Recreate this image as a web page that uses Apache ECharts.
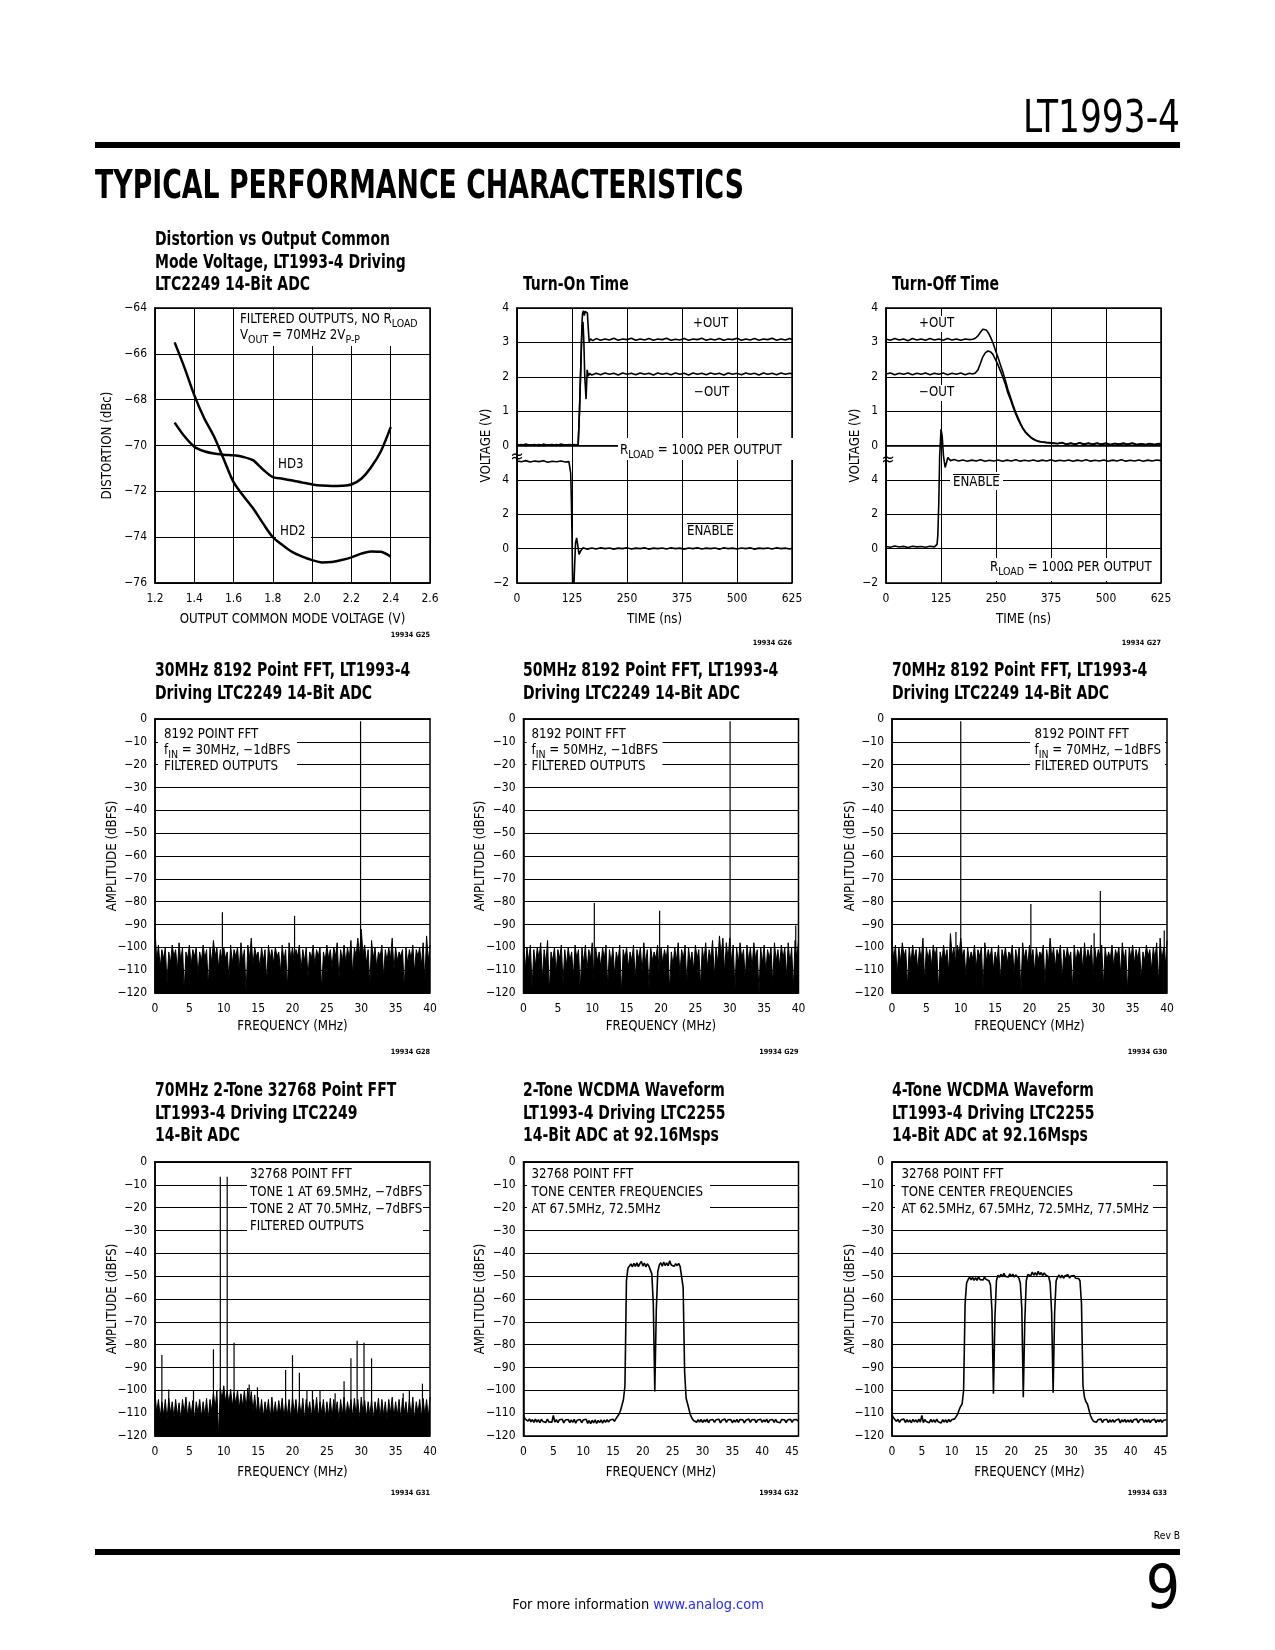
<!DOCTYPE html>
<html><head><meta charset="utf-8">
<script src="https://cdn.jsdelivr.net/npm/echarts@6/dist/echarts.min.js"></script>
<style>html,body{margin:0;padding:0;background:#fff}#c{width:1275px;height:1650px}</style>
</head><body><div id="c"></div>
<script>
// ---------------- DATA ----------------
// Distortion vs output common mode voltage [V, dBc]
const hd2 = [[1.3,-65.5],[1.35,-66.6],[1.4,-67.8],[1.45,-68.8],[1.5,-69.6],[1.55,-70.6],[1.6,-71.6],[1.65,-72.2],[1.7,-72.75],[1.75,-73.4],[1.8,-74.0],[1.85,-74.35],[1.9,-74.65],[1.95,-74.85],[2.0,-75.0],[2.05,-75.1],[2.1,-75.08],[2.15,-75.0],[2.2,-74.88],[2.25,-74.72],[2.3,-74.62],[2.35,-74.64],[2.4,-74.85]];
const hd3 = [[1.3,-69.0],[1.35,-69.6],[1.4,-70.05],[1.45,-70.25],[1.5,-70.35],[1.55,-70.4],[1.6,-70.43],[1.65,-70.5],[1.7,-70.65],[1.75,-71.05],[1.8,-71.38],[1.85,-71.45],[1.9,-71.53],[1.95,-71.62],[2.0,-71.7],[2.05,-71.75],[2.1,-71.77],[2.15,-71.76],[2.2,-71.7],[2.25,-71.45],[2.3,-70.95],[2.35,-70.25],[2.4,-69.2]];

// Turn-on time [ns, V]
const turnOnPlus = [[0,0.03],[10,0.0],[20,0.04],[30,0.01],[40,0.03],[50,-0.01],[60,0.04],[70,0.01],[80,0.03],[90,0.0],[100,0.04],[110,0.01],[120,0.03],[130,0.0],[139,0.02],[142,1.0],[145,2.3],[147.5,3.5],[149,3.85],[151,3.92],[153,3.78],[155,3.9],[158,3.92],[160,3.85],[162,3.4],[164,3.02],[167,3.1],[172,3.05],[180,3.11],[190,3.06],[200,3.1],[210,3.07],[220,3.12],[230,3.06],[240,3.1],[250,3.08],[260,3.12],[270,3.06],[280,3.1],[290,3.07],[300,3.11],[310,3.06],[320,3.1],[330,3.08],[340,3.12],[350,3.06],[360,3.09],[370,3.07],[380,3.11],[390,3.06],[400,3.1],[410,3.08],[420,3.12],[430,3.06],[440,3.1],[450,3.07],[460,3.11],[470,3.06],[480,3.1],[490,3.08],[500,3.12],[510,3.06],[520,3.1],[530,3.07],[540,3.11],[550,3.06],[560,3.1],[570,3.08],[580,3.12],[590,3.06],[600,3.1],[610,3.07],[620,3.11],[625,3.08]];
const turnOnMinus = [[0,0.0],[10,0.03],[20,-0.01],[30,0.02],[40,0.0],[50,0.03],[60,-0.01],[70,0.02],[80,0.0],[90,0.03],[100,-0.01],[110,0.02],[120,0.0],[130,0.03],[139,0.0],[142,1.0],[145,2.3],[147.5,3.3],[150,3.6],[152,3.0],[154,2.0],[157,1.35],[159.5,2.2],[162,2.02],[165,2.1],[170,2.05],[180,2.1],[190,2.06],[200,2.11],[210,2.07],[220,2.1],[230,2.05],[240,2.11],[250,2.07],[260,2.1],[270,2.06],[280,2.11],[290,2.07],[300,2.1],[310,2.05],[320,2.11],[330,2.07],[340,2.1],[350,2.06],[360,2.11],[370,2.07],[380,2.1],[390,2.05],[400,2.11],[410,2.07],[420,2.1],[430,2.06],[440,2.11],[450,2.07],[460,2.1],[470,2.05],[480,2.11],[490,2.07],[500,2.1],[510,2.06],[520,2.11],[530,2.07],[540,2.1],[550,2.05],[560,2.11],[570,2.07],[580,2.1],[590,2.06],[600,2.11],[610,2.07],[620,2.1],[625,2.08]];
const turnOnEnable = [[0,5.1],[10,5.05],[20,5.12],[30,5.04],[40,5.1],[50,5.06],[60,5.11],[70,5.03],[80,5.08],[90,5.05],[100,5.1],[110,5.04],[118,5.06],[120.5,5.0],[122,4.4],[123.5,2.9],[125,0.8],[126.5,-2.2],[129,-2.4],[131,-1.0],[133,0.3],[135.5,0.62],[138,0.2],[141,-0.33],[145,-0.12],[150,0.05],[160,-0.03],[170,0.04],[180,-0.02],[190,0.05],[200,0.0],[210,0.04],[220,-0.03],[230,0.03],[240,0.0],[250,0.05],[260,-0.02],[270,0.03],[280,0.0],[290,0.05],[300,-0.03],[310,0.03],[320,0.0],[330,0.04],[340,-0.02],[350,0.05],[360,0.0],[370,0.03],[380,-0.03],[390,0.04],[400,0.0],[410,0.05],[420,-0.02],[430,0.03],[440,0.0],[450,0.04],[460,-0.03],[470,0.05],[480,0.0],[490,0.03],[500,-0.02],[510,0.04],[520,0.0],[530,0.05],[540,-0.03],[550,0.03],[560,0.0],[570,0.04],[580,-0.02],[590,0.05],[600,0.0],[610,0.03],[620,-0.02],[625,0.02]];

// Turn-off time [ns, V]
const turnOffPlus = [[0,3.1],[10,3.06],[20,3.11],[30,3.07],[40,3.1],[50,3.05],[60,3.11],[70,3.07],[80,3.1],[90,3.06],[100,3.11],[110,3.07],[120,3.1],[130,3.06],[140,3.11],[150,3.07],[160,3.1],[170,3.06],[180,3.1],[190,3.08],[197,3.09],[203,3.12],[209,3.19],[215,3.3],[220,3.38],[224,3.4],[228,3.36],[233,3.27],[238,3.14],[243,2.99],[248,2.8],[254,2.58],[260,2.35],[266,2.12],[272,1.86],[277,1.63],[283,1.4],[288.5,1.19],[294,0.99],[300,0.81],[306,0.64],[311,0.51],[317,0.4],[323,0.32],[330,0.23],[338,0.17],[345,0.13],[353,0.11],[365,0.09],[376,0.08],[390,0.06],[400,0.09],[410,0.04],[420,0.07],[430,0.03],[440,0.08],[450,0.04],[460,0.07],[470,0.03],[480,0.06],[490,0.04],[500,0.07],[510,0.02],[520,0.06],[530,0.04],[540,0.07],[550,0.03],[560,0.06],[570,0.02],[580,0.05],[590,0.03],[600,0.06],[610,0.02],[620,0.05],[625,0.03]];
const turnOffMinus = [[0,2.08],[10,2.11],[20,2.06],[30,2.1],[40,2.07],[50,2.11],[60,2.06],[70,2.1],[80,2.07],[90,2.11],[100,2.06],[110,2.1],[120,2.07],[130,2.11],[140,2.06],[150,2.1],[160,2.07],[170,2.11],[180,2.06],[190,2.1],[197,2.08],[203,2.11],[209,2.2],[215,2.4],[220,2.58],[226,2.7],[232,2.75],[238,2.72],[243,2.65],[248,2.52],[254,2.36],[260,2.17],[266,1.97],[272,1.75],[277,1.53],[283,1.33],[288.5,1.13],[294,0.94],[300,0.76],[306,0.61],[311,0.49],[317,0.38],[323,0.3],[330,0.22],[338,0.16],[345,0.12],[353,0.1],[365,0.08],[376,0.07],[390,0.05],[400,0.08],[410,0.03],[420,0.06],[430,0.04],[440,0.07],[450,0.03],[460,0.06],[470,0.04],[480,0.07],[490,0.03],[500,0.05],[510,0.03],[520,0.06],[530,0.02],[540,0.05],[550,0.04],[560,0.07],[570,0.03],[580,0.05],[590,0.02],[600,0.05],[610,0.03],[620,0.06],[625,0.04]];
const turnOffEnable = [[0,0.12],[10,0.08],[20,0.15],[30,0.09],[40,0.13],[50,0.07],[60,0.14],[70,0.1],[80,0.12],[90,0.08],[100,0.14],[110,0.1],[114,0.12],[116,0.25],[117.7,0.74],[120,2.68],[122,5.4],[125,6.95],[127.6,6.56],[130.6,5.4],[134.4,4.72],[137.4,5.0],[140.5,5.3],[146.5,5.12],[155,5.18],[165,5.1],[175,5.16],[185,5.08],[195,5.15],[205,5.1],[215,5.17],[225,5.08],[235,5.14],[245,5.1],[255,5.16],[265,5.08],[275,5.15],[285,5.1],[295,5.17],[305,5.09],[315,5.14],[325,5.1],[335,5.16],[345,5.08],[355,5.15],[365,5.1],[375,5.17],[385,5.09],[395,5.14],[405,5.1],[415,5.16],[425,5.08],[435,5.15],[445,5.1],[455,5.17],[465,5.09],[475,5.14],[485,5.1],[495,5.16],[505,5.08],[515,5.15],[525,5.1],[535,5.17],[545,5.09],[555,5.14],[565,5.1],[575,5.16],[585,5.08],[595,5.15],[605,5.1],[615,5.16],[625,5.12]];

// FFT noise floors: one value (dBFS) every FFT_STEP MHz starting at 0 MHz
const FFT_STEP = 0.25;
const fft30Noise = [
-92,-106,-99,-109,-101,-105,-100,-116,-102,-107,-99,-104,-101,-110,-98,-106,-100,-119,-102,-105,
-99,-108,-101,-104,-100,-112,-102,-106,-99,-105,-101,-117,-100,-107,-97,-104,-100,-109,-101,-106,
-100,-105,-102,-114,-99,-107,-101,-104,-100,-110,-98,-106,-101,-120,-99,-105,-96,-108,-100,-104,
-102,-109,-100,-106,-101,-115,-99,-105,-101,-107,-100,-104,-102,-111,-99,-106,-101,-118,-98,-105,
-100,-107,-101,-104,-99,-110,-101,-106,-100,-113,-102,-105,-99,-108,-101,-104,-100,-119,-102,-106,
-99,-105,-101,-109,-100,-104,-98,-114,-101,-106,-99,-107,-100,-105,-97,-112,-100,-104,-96,-104,
-92,-103,-99,-107,-101,-117,-97,-105,-100,-109,-102,-104,-99,-113,-101,-106,-100,-105,-96,-110,
-100,-106,-102,-104,-101,-118,-100,-107,-101,-105,-99,-111,-101,-104,-100,-108,-98,-115,-95,-106,
-99];
const fft30Spurs = [[9.8,-84.6],[20.3,-86.2],[29.9,-1]];

const fft50Noise = [
-97,-110,-100,-106,-99,-118,-101,-108,-100,-105,-98,-114,-101,-107,-97,-120,-102,-106,-100,-111,
-101,-105,-99,-116,-101,-108,-100,-106,-102,-113,-99,-105,-101,-119,-100,-107,-99,-110,-101,-105,
-98,-115,-100,-106,-102,-109,-100,-105,-99,-117,-101,-107,-100,-112,-102,-106,-99,-120,-101,-105,
-100,-109,-102,-106,-99,-114,-101,-105,-100,-111,-98,-107,-101,-118,-100,-106,-102,-105,-99,-113,
-100,-107,-101,-105,-99,-119,-102,-108,-100,-106,-98,-112,-101,-105,-99,-116,-100,-107,-102,-110,
-99,-105,-101,-117,-100,-106,-98,-109,-101,-105,-97,-113,-100,-107,-95,-104,-96,-111,-98,-105,
-96,-106,-99,-118,-100,-107,-98,-105,-101,-114,-99,-106,-100,-109,-98,-105,-101,-120,-100,-107,
-99,-111,-101,-105,-100,-116,-98,-106,-101,-108,-99,-105,-100,-113,-98,-107,-100,-118,-97,-105,
-97];
const fft50Spurs = [[10.3,-80.6],[19.8,-84],[30.05,-1],[39.6,-90.4]];

const fft70Noise = [
-97,-105,-99,-112,-100,-106,-98,-104,-101,-117,-100,-107,-99,-105,-101,-110,-100,-106,-96,-115,
-100,-105,-101,-108,-99,-104,-100,-119,-102,-106,-99,-105,-101,-111,-94,-104,-100,-107,-99,-103,
-96,-104,-101,-113,-100,-106,-102,-105,-99,-109,-101,-104,-100,-118,-98,-106,-101,-105,-100,-110,
-102,-106,-99,-115,-101,-105,-100,-107,-102,-104,-99,-112,-101,-106,-100,-120,-98,-105,-101,-108,
-99,-105,-101,-111,-100,-106,-102,-104,-99,-116,-101,-107,-96,-105,-100,-109,-101,-104,-99,-114,
-101,-106,-100,-105,-102,-118,-99,-107,-101,-104,-100,-110,-98,-106,-101,-105,-99,-113,-100,-106,
-101,-104,-99,-117,-100,-106,-102,-105,-99,-109,-101,-104,-100,-112,-98,-106,-101,-119,-100,-105,
-99,-107,-101,-105,-100,-114,-102,-106,-99,-104,-101,-110,-100,-105,-98,-116,-96,-106,-100,-108,
-97];
const fft70Spurs = [[9.3,-93.3],[10.0,-1],[20.2,-81],[29.4,-93.8],[30.3,-75.3],[39.6,-92.6]];

const twoToneNoise = [
-101,-110,-104,-112,-105,-111,-104,-113,-103.5,-110,-105,-112,-104,-111,-105.5,-113,-104,-110,-103,-112,
-105,-111,-104.5,-113,-105,-110,-104,-112,-105,-111,-103.5,-113,-104,-109,-101,-108,-100,-120,-99,-104,
-98,-105,-100,-106,-99.5,-107,-101,-106,-100,-108,-101.5,-107,-100,-108,-99,-107,-100.5,-109,-102,-110,
-103,-111,-104,-112,-105,-110,-104,-113,-103,-111,-105,-112,-104.5,-110,-103.5,-112,-105,-111,-104,-113,
-103,-110,-104,-112,-105,-111,-103.5,-113,-104,-110,-105,-112,-104,-111,-103,-112,-105,-110,-104,-113,
-105,-111,-103.5,-112,-104,-110,-105,-113,-104,-111,-103,-112,-105,-110,-104,-112,-103.5,-111,-104,-113,
-103,-110,-104.5,-112,-105,-111,-104,-113,-105,-110,-103.5,-112,-104,-111,-105,-113,-104,-110,-103,-112,
-105,-111,-104,-113,-103.5,-110,-105,-112,-104,-111,-103,-113,-105,-110,-104,-112,-103.5,-111,-104,-112,
-103];
const twoToneSpurs = [[1.0,-84.5],[2.0,-99.6],[5.6,-100.2],[8.5,-82],[9.5,-6.5],[10.5,-6.5],[11.5,-79.2],[13.7,-97.4],[14.9,-98.7],[19.0,-91.1],[20.0,-84.6],[21.0,-92.3],[22.1,-100.3],[22.9,-100.3],[24.0,-99.9],[26.2,-101.3],[27.5,-96],[28.5,-86],[29.4,-78.3],[30.4,-79.2],[31.5,-86],[36.1,-101.3],[37.0,-99.9],[38.9,-97.1]];

// WCDMA spectra (dBFS) every FFT_STEP MHz from 0 to 46 MHz
const wcdma2 = [
-111,-112.5,-112,-113.5,-112.5,-113.8,-112.8,-114,-112.6,-113.9,-112.8,-114.2,-112.7,-113.6,-112.9,-114.1,-112.6,-113.8,-113,-114,
-111,-113.9,-112.8,-114.2,-112.9,-113.7,-112.7,-114.3,-113,-113.8,-112.8,-114.1,-112.9,-114,-112.7,-114.4,-113.1,-113.9,-112.8,-114.2,
-113,-113.8,-112.7,-114.5,-113.2,-114.6,-113.1,-114.3,-112.9,-114.5,-113.2,-114.1,-112.9,-114.4,-113,-114,-112.8,-113.9,-113,-113.8,
-112.7,-113.6,-112.4,-111.8,-110.5,-108.8,-106.5,-104,-98,-52,-46.5,-45.8,-44.6,-45.9,-44.4,-45.7,-44.2,-45.8,-44.5,-43.5,
-45.6,-44.3,-45.9,-44.6,-45.5,-46,-49,-62,-100.5,-65,-48,-45.2,-44.1,-45.6,-43.8,-45.4,-44.2,-45.5,-43.2,-45.1,
-44.3,-45.7,-44.5,-45.4,-44.4,-45.8,-46.5,-55,-92,-103.5,-106,-108.5,-111,-112.3,-113.2,-112.6,-114,-112.8,-113.9,-112.7,
-114.1,-112.9,-113.8,-112.6,-114.2,-113,-113.7,-112.8,-114,-112.9,-113.6,-112.7,-114.3,-113.1,-113.8,-112.6,-114,-112.9,-113.5,-112.8,
-114.2,-113,-113.9,-112.7,-114.1,-112.8,-113.6,-112.9,-114.3,-113.1,-113.8,-112.6,-114,-112.9,-113.7,-112.8,-114.1,-113,-113.6,-112.7,
-114,-112.9,-113.8,-112.6,-114.2,-113,-113.7,-112.8,-114,-112.7,-113.9,-113.1,-114.2,-112.8,-113.6,-112.9,-114.1,-113,-113.8,-112.7,
-114,-112.9,-113.7,-112.8,-113.5];
const wcdma4 = [
-110.8,-112,-112.5,-113.6,-112.7,-114,-112.9,-113.7,-112.6,-114.1,-112.8,-113.9,-113,-114.2,-112.7,-113.8,-112.9,-114,-112.6,-113.9,
-111,-114.1,-112.8,-113.7,-113,-114.2,-112.7,-113.9,-112.9,-114,-112.6,-113.8,-113.1,-114.3,-112.8,-113.9,-112.9,-114.1,-112.7,-113.8,
-112.9,-113.6,-112.5,-111.5,-110.5,-108.5,-107,-106,-100,-62,-53,-51.5,-50.3,-51.6,-50.5,-51.8,-50.6,-51.9,-50.2,-51.5,
-50.7,-51.7,-50.4,-51.4,-50.8,-52,-54,-65,-101.5,-68,-52,-49.6,-50.5,-49.2,-50.3,-48.8,-50.1,-49.3,-50.4,-49,
-50.2,-49.1,-50.4,-49.5,-50.2,-50.8,-53,-64,-103,-70,-52,-49.3,-48.6,-49.8,-48.2,-49.6,-48.5,-49.7,-47.9,-49.4,
-48.4,-49.8,-48.6,-49.5,-48.8,-50.2,-53,-66,-101,-66,-52,-50.4,-49.5,-50.7,-49.6,-50.9,-49.8,-50.6,-49.4,-50.8,
-49.9,-50.7,-49.7,-50.9,-50.2,-51,-52,-62,-98,-103,-105,-106,-108.5,-111,-112.5,-113.5,-112.8,-114,-112.9,-113.7,
-112.6,-114.1,-113,-113.8,-112.7,-114.2,-112.9,-113.9,-112.8,-114,-113.1,-113.7,-112.6,-114.3,-112.9,-113.8,-112.7,-114,-113,-113.9,
-112.8,-114.1,-112.9,-113.7,-112.6,-114.2,-113,-113.8,-112.7,-114,-112.9,-113.9,-112.8,-114.1,-113.1,-113.7,-112.7,-114.2,-112.9,-113.8,
-112.8,-114,-113.1,-113.6,-112.9];

// Axis tick settings
const distX = {min:1.2, max:2.6, interval:0.2};
const distY = {min:-76, max:-64, interval:2};
const timeX = {min:0, max:625, interval:125};
const voltUpper = {min:-4, max:4, interval:1};
const voltLower = {min:-2, max:14, interval:2};
const fftX = {min:0, max:40, interval:5};
const wcdmaX = {min:0, max:46.08, interval:5};
const dbfsY = {min:-120, max:0, interval:10};

// ---------------- LAYOUT / FONTS ----------------
function hasFont(f){const c=document.createElement('canvas').getContext('2d');const s='mmmmmmmmmmlli1WQ0123456789';c.font='40px monospace';const a=c.measureText(s).width;c.font='40px "'+f+'", monospace';const b=c.measureText(s).width;return Math.abs(a-b)>0.5;}
const NARROW = ['Liberation Sans Narrow','Arial Narrow','DejaVu Sans Condensed','Liberation Sans'].find(hasFont) || 'sans-serif';
const K = (NARROW==='Liberation Sans Narrow'||NARROW==='Arial Narrow') ? 1 : 0.85;
const mctx = document.createElement('canvas').getContext('2d');
function textW(str,size,weight){mctx.font=(weight||'normal')+' '+size+'px "'+NARROW+'"';return mctx.measureText(str).width;}

const FS = 15.5*K;      // annotation / axis-name text
const LFS = 14.1*K;     // tick labels
const SUB = 10.5;
const TFS = 19.5;
const TSX = 235/textW('Distortion vs Output Common',TFS,'bold');
const G = [
 {left:155,top:308,width:275,height:275},
 {left:517,top:308,width:275,height:275},
 {left:886,top:308,width:275,height:275},
 {left:155,top:719,width:275,height:274},
 {left:523.5,top:719,width:275,height:274},
 {left:892,top:719,width:275,height:274},
 {left:155,top:1162,width:275,height:274},
 {left:523.5,top:1162,width:275,height:274},
 {left:892,top:1162,width:275,height:274}
];
const minus = v => v<0 ? '\u2212'+Math.abs(v) : String(v);
const lblStyle = {color:'#000', fontSize:LFS, fontFamily:NARROW};
const nameStyle = {color:'#000', fontSize:FS, fontFamily:NARROW};
function xAx(gi, sc, name, gap, margin, splitX, fmt){
  return {type:'value', gridIndex:gi, min:sc.min, max:sc.max, interval:sc.interval,
    name, nameLocation:'middle', nameGap:gap, nameMoveOverlap:false, nameTextStyle:nameStyle,
    axisLine:{show:true, lineStyle:{color:'#000', width:1.5}}, axisTick:{show:false},
    axisLabel:Object.assign({margin, formatter:fmt||minus, showMinLabel:true, showMaxLabel:true}, lblStyle),
    splitLine:{show:splitX, lineStyle:{color:'#000', width:1}}};
}
function yAx(gi, sc, name, gap, fmt){
  return {type:'value', gridIndex:gi, min:sc.min, max:sc.max, interval:sc.interval,
    name, nameLocation:'middle', nameGap:gap, nameMoveOverlap:false, nameTextStyle:nameStyle,
    axisLine:{show:true, lineStyle:{color:'#000', width:1.5}}, axisTick:{show:false},
    axisLabel:Object.assign({margin:8, formatter:fmt||minus, showMinLabel:true, showMaxLabel:true}, lblStyle),
    splitLine:{show:true, lineStyle:{color:'#000', width:1}}};
}
function hiddenY(gi, sc){
  return {type:'value', gridIndex:gi, min:sc.min, max:sc.max, interval:sc.interval, position:'right',
    axisLine:{show:false}, axisTick:{show:false}, axisLabel:{show:false}, splitLine:{show:false}};
}
// upper axis ticks below 0 are labelled in the lower (ENABLE) scale
const voltFmt = v => v>=0 ? String(v) : minus(2*v+6);
const wcdmaFmt = v => Math.abs(v/5-Math.round(v/5))<1e-6 ? String(Math.round(v)) : '';

const xAxes = [
  xAx(0, distX, 'OUTPUT COMMON MODE VOLTAGE (V)', 30, 10, true, v=>v.toFixed(1)),
  xAx(1, timeX, 'TIME (ns)', 30, 10, true),
  xAx(2, timeX, 'TIME (ns)', 30, 10, true),
  xAx(3, fftX, 'FREQUENCY (MHz)', 27, 10, false),
  xAx(4, fftX, 'FREQUENCY (MHz)', 27, 10, false),
  xAx(5, fftX, 'FREQUENCY (MHz)', 27, 10, false),
  xAx(6, fftX, 'FREQUENCY (MHz)', 30, 9.5, false),
  xAx(7, wcdmaX, 'FREQUENCY (MHz)', 30, 9.5, false, wcdmaFmt),
  xAx(8, wcdmaX, 'FREQUENCY (MHz)', 30, 9.5, false, wcdmaFmt)
];
const yAxes = [
  yAx(0, distY, 'DISTORTION (dBc)', 41),
  yAx(1, voltUpper, 'VOLTAGE (V)', 24, voltFmt),
  yAx(2, voltUpper, 'VOLTAGE (V)', 24, voltFmt),
  yAx(3, dbfsY, 'AMPLITUDE (dBFS)', 36),
  yAx(4, dbfsY, 'AMPLITUDE (dBFS)', 36),
  yAx(5, dbfsY, 'AMPLITUDE (dBFS)', 35),
  yAx(6, dbfsY, 'AMPLITUDE (dBFS)', 36),
  yAx(7, dbfsY, 'AMPLITUDE (dBFS)', 36),
  yAx(8, dbfsY, 'AMPLITUDE (dBFS)', 35),
  hiddenY(1, voltLower),
  hiddenY(2, voltLower)
];

const toXY = arr => arr.map((v,i)=>[i*FFT_STEP, v]);
const FILL = {areaStyle:{color:'#000', opacity:1, origin:'start'}};
function lineS(xi, yi, data, width, extra){
  return Object.assign({type:'line', xAxisIndex:xi, yAxisIndex:yi, data, symbol:'none', showSymbol:false,
    silent:true, animation:false, clip:true, lineStyle:{color:'#000', width}, z:3}, extra||{});
}
function spurS(xi, yi, data){
  return {type:'custom', xAxisIndex:xi, yAxisIndex:yi, data, silent:true, animation:false, z:4,
    renderItem:(p, api)=>{
      const a = api.coord([api.value(0), dbfsY.min]);
      const b = api.coord([api.value(0), api.value(1)]);
      return {type:'line', shape:{x1:a[0], y1:a[1], x2:b[0], y2:b[1]}, style:{stroke:'#000', lineWidth:1.2}};
    }};
}
const series = [
  lineS(0,0,hd2,2.5,{smooth:0.3}),
  lineS(0,0,hd3,2.5,{smooth:0.3}),
  lineS(1,1,turnOnPlus,1.6),
  lineS(1,1,turnOnMinus,1.6),
  lineS(1,9,turnOnEnable,1.6),
  lineS(2,2,turnOffPlus,1.6),
  lineS(2,2,turnOffMinus,1.6),
  lineS(2,10,turnOffEnable,1.6),
  lineS(3,3,toXY(fft30Noise),1,FILL),
  spurS(3,3,fft30Spurs),
  lineS(4,4,toXY(fft50Noise),1,FILL),
  spurS(4,4,fft50Spurs),
  lineS(5,5,toXY(fft70Noise),1,FILL),
  spurS(5,5,fft70Spurs),
  lineS(6,6,toXY(twoToneNoise),1,FILL),
  spurS(6,6,twoToneSpurs),
  lineS(7,7,toXY(wcdma2),1.6),
  lineS(8,8,toXY(wcdma4),1.6)
];

// ---------------- TEXT / GRAPHICS ----------------
const RICH = {s:{fontSize:SUB, fontFamily:NARROW, fill:'#000', color:'#000', padding:[8,0,0,0]}};
function txt(x,y,text,o){return {type:'text', x, y, z:12, silent:true, style:Object.assign({text, fontSize:FS, fontFamily:NARROW, fill:'#000', align:'left', verticalAlign:'middle', rich:RICH}, o||{})};}
function box(x,y,w,h){return {type:'rect', z:11, silent:true, shape:{x,y,width:w,height:h}, style:{fill:'#fff'}};}
function overline(x,y,str){const w=textW(str,FS);return {type:'line', z:12, silent:true, shape:{x1:x,y1:y-8,x2:x+w,y2:y-8}, style:{stroke:'#000', lineWidth:1}};}
function title(x,yLast,lines){return lines.map((t,i)=>({type:'text', x, y:yLast-(lines.length-1-i)*22.5, scaleX:TSX, z:12, silent:true,
  style:{text:t, fontSize:TFS, fontWeight:'bold', fontFamily:NARROW, fill:'#000', align:'left', verticalAlign:'middle'}}));}
function figId(xr,y,t){return txt(xr,y,t,{fontSize:8.5*K, fontWeight:'bold', align:'right'});}

const gfx = [];
// page header
const hdrW = textW('TYPICAL PERFORMANCE CHARACTERISTICS',39,'bold');
gfx.push({type:'text', x:95, y:188, scaleX:649/hdrW, z:12, style:{text:'TYPICAL PERFORMANCE CHARACTERISTICS', fontSize:39, fontWeight:'bold', fontFamily:NARROW, fill:'#000', align:'left', verticalAlign:'middle'}});
const ltW = textW('LT1993-4',44);
gfx.push({type:'text', x:1180, y:121, scaleX:157/ltW, z:12, style:{text:'LT1993-4', fontSize:44, fontFamily:NARROW, fill:'#000', align:'right', verticalAlign:'middle'}});
gfx.push({type:'rect', z:12, shape:{x:95,y:142,width:1085,height:6}, style:{fill:'#000'}});
// footer
gfx.push(txt(1180,1536,'Rev B',{fontSize:12*K, align:'right'}));
gfx.push({type:'rect', z:12, shape:{x:95,y:1549,width:1085,height:6}, style:{fill:'#000'}});
gfx.push(txt(1180,1592,'9',{fontSize:60, align:'right'}));
gfx.push(txt(638,1605,'For more information {u|www.analog.com}',{fontSize:17*K, align:'center', rich:{u:{fontSize:17*K, fontFamily:NARROW, fill:'#2a2aff', color:'#2a2aff'}}}));

// titles
gfx.push(...title(155,285,['Distortion vs Output Common','Mode Voltage, LT1993-4 Driving','LTC2249 14-Bit ADC']));
gfx.push(...title(523,285,['Turn-On Time']));
gfx.push(...title(892,285,['Turn-Off Time']));
gfx.push(...title(155,693.5,['30MHz 8192 Point FFT, LT1993-4','Driving LTC2249 14-Bit ADC']));
gfx.push(...title(523,693.5,['50MHz 8192 Point FFT, LT1993-4','Driving LTC2249 14-Bit ADC']));
gfx.push(...title(892,693.5,['70MHz 8192 Point FFT, LT1993-4','Driving LTC2249 14-Bit ADC']));
gfx.push(...title(155,1136,['70MHz 2-Tone 32768 Point FFT','LT1993-4 Driving LTC2249','14-Bit ADC']));
gfx.push(...title(523,1136,['2-Tone WCDMA Waveform','LT1993-4 Driving LTC2255','14-Bit ADC at 92.16Msps']));
gfx.push(...title(892,1136,['4-Tone WCDMA Waveform','LT1993-4 Driving LTC2255','14-Bit ADC at 92.16Msps']));
// figure ids
gfx.push(figId(430,635,'19934 G25'), figId(792,643,'19934 G26'), figId(1161,643,'19934 G27'));
gfx.push(figId(430,1052,'19934 G28'), figId(798.5,1052,'19934 G29'), figId(1167,1052,'19934 G30'));
gfx.push(figId(430,1493,'19934 G31'), figId(798.5,1493,'19934 G32'), figId(1167,1493,'19934 G33'));

// chart 1 annotations
gfx.push(box(234,309.5,194,36.5));
gfx.push(txt(240,320,'FILTERED OUTPUTS, NO R{s|LOAD}'));
gfx.push(txt(240,336,'V{s|OUT} = 70MHz 2V{s|P-P}'));
gfx.push(txt(278,465,'HD3'));
gfx.push(box(276,527,35,12));
gfx.push(txt(280,532,'HD2'));
// chart 2 annotations
gfx.push(txt(693,324,'+OUT'));
gfx.push(txt(694,392.5,'\u2212OUT'));
gfx.push(box(618,438,176,22));
gfx.push(txt(620,451,'R{s|LOAD} = 100\u03A9 PER OUTPUT'));
gfx.push(txt(687,531.5,'ENABLE'), overline(687,531.5,'ENABLE'));
gfx.push(txt(517,457,'\u2248',{fontSize:18, align:'center'}));
// chart 3 annotations
gfx.push(box(916,316,41,16), txt(919,324,'+OUT'));
gfx.push(box(916,385,42,16), txt(919,392.5,'\u2212OUT'));
gfx.push(box(950,472,53,18), txt(953,482.5,'ENABLE'), overline(953,482.5,'ENABLE'));
gfx.push(box(986,558,174,23), txt(990,568,'R{s|LOAD} = 100\u03A9 PER OUTPUT'));
gfx.push(txt(888,460,'\u2248',{fontSize:18, align:'center'}));
// FFT annotations
function fftBox(bx,bw,tx,fin){
  gfx.push(box(bx,721,bw,50));
  gfx.push(txt(tx,735,'8192 POINT FFT'));
  gfx.push(txt(tx,751,'f{s|IN} = '+fin+', \u22121dBFS'));
  gfx.push(txt(tx,767,'FILTERED OUTPUTS'));
}
fftBox(158,139,164,'30MHz');
fftBox(526.5,136,531.5,'50MHz');
fftBox(1030,135,1034.5,'70MHz');
gfx.push(box(247,1164,176,70));
gfx.push(txt(250,1175,'32768 POINT FFT'), txt(250,1192.5,'TONE 1 AT 69.5MHz, \u22127dBFS'), txt(250,1210,'TONE 2 AT 70.5MHz, \u22127dBFS'), txt(250,1227,'FILTERED OUTPUTS'));
gfx.push(box(527,1164,183,54));
gfx.push(txt(531.5,1175,'32768 POINT FFT'), txt(531.5,1192.5,'TONE CENTER FREQUENCIES'), txt(531.5,1210,'AT 67.5MHz, 72.5MHz'));
gfx.push(box(895,1164,258,54));
gfx.push(txt(901.5,1175,'32768 POINT FFT'), txt(901.5,1192.5,'TONE CENTER FREQUENCIES'), txt(901.5,1210,'AT 62.5MHz, 67.5MHz, 72.5MHz, 77.5MHz'));

const option = {
  backgroundColor:'#fff',
  animation:false,
  grid: G.map(g=>Object.assign({show:true, borderColor:'#000', borderWidth:1.5, backgroundColor:'transparent', containLabel:false}, g)),
  xAxis: xAxes,
  yAxis: yAxes,
  series,
  graphic: {elements: gfx}
};
const chart = echarts.init(document.getElementById('c'), null, {renderer:'canvas', width:1275, height:1650});
chart.setOption(option);
</script></body></html>
